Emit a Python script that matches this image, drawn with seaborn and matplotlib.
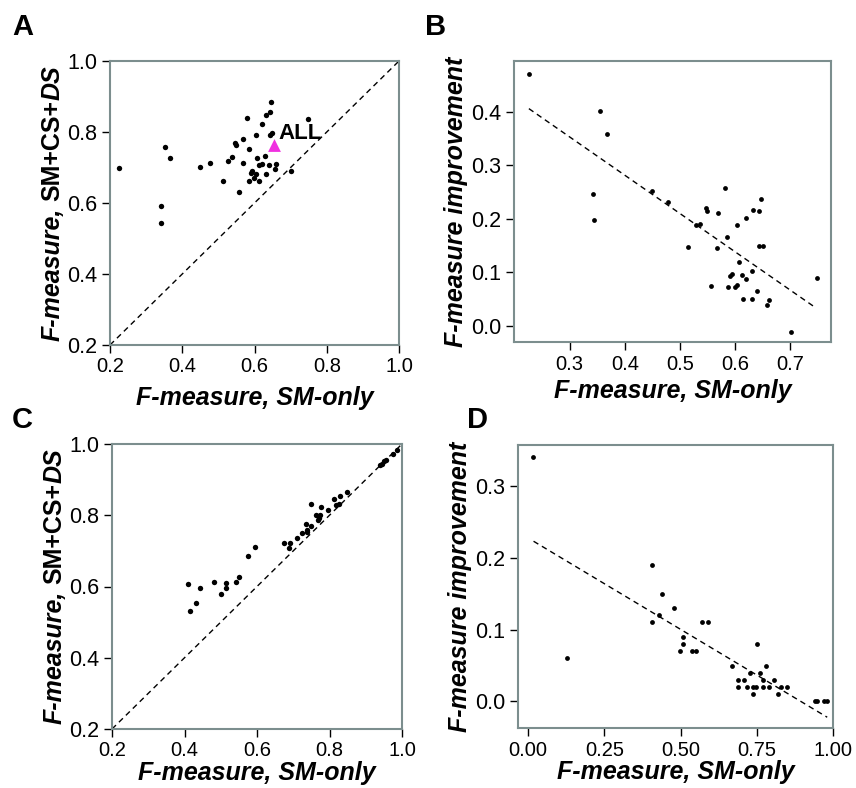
import numpy as np
import matplotlib
matplotlib.use('Agg')
import matplotlib.pyplot as plt
import seaborn as sns

sns.set_style('white')
plt.rcParams['font.family'] = ['Liberation Sans', 'DejaVu Sans']
plt.rcParams['text.color'] = 'black'
plt.rcParams['axes.labelcolor'] = 'black'
plt.rcParams['xtick.color'] = 'black'
plt.rcParams['ytick.color'] = 'black'

# Panel A: F-measure, SM-only vs SM+CS+DS
a_sm = [0.646, 0.643, 0.631, 0.580, 0.747, 0.621, 0.649, 0.644, 0.603, 0.568,
        0.547, 0.548, 0.353, 0.584, 0.366, 0.537, 0.630, 0.607, 0.527, 0.568,
        0.477, 0.448, 0.224, 0.612, 0.621, 0.640, 0.659, 0.656, 0.592, 0.590,
        0.604, 0.631, 0.701, 0.598, 0.586, 0.612, 0.513, 0.556, 0.341, 0.342]
a_full = [0.885, 0.857, 0.848, 0.839, 0.838, 0.823, 0.798, 0.792, 0.791, 0.779,
          0.770, 0.764, 0.759, 0.751, 0.728, 0.730, 0.733, 0.727, 0.717, 0.714,
          0.712, 0.701, 0.699, 0.708, 0.710, 0.706, 0.709, 0.697, 0.690, 0.685,
          0.683, 0.682, 0.689, 0.671, 0.661, 0.663, 0.663, 0.631, 0.591, 0.543]
all_sm = [0.654]
all_full = [0.763]

# Panel B: improvement vs SM-only
b_sm = [0.226, 0.355, 0.368, 0.343, 0.344, 0.449, 0.479, 0.514, 0.529, 0.537,
        0.548, 0.549, 0.557, 0.582, 0.569, 0.568, 0.585, 0.588, 0.591, 0.594,
        0.599, 0.604, 0.603, 0.608, 0.612, 0.614, 0.620, 0.620, 0.631, 0.631,
        0.633, 0.640, 0.643, 0.643, 0.647, 0.650, 0.658, 0.661, 0.702, 0.748]
b_imp = [0.471, 0.402, 0.358, 0.247, 0.198, 0.252, 0.232, 0.148, 0.189, 0.191,
         0.221, 0.215, 0.074, 0.258, 0.211, 0.145, 0.167, 0.073, 0.093, 0.097,
         0.073, 0.077, 0.188, 0.120, 0.095, 0.050, 0.088, 0.201, 0.103, 0.050,
         0.217, 0.066, 0.215, 0.149, 0.237, 0.149, 0.040, 0.048, -0.012, 0.090]
b_fit_x = [0.226, 0.742]
b_fit_y = [0.406, 0.037]

# Panel C
c_sm = [0.985, 0.974, 0.956, 0.950, 0.944, 0.939, 0.848, 0.830, 0.812, 0.748,
        0.777, 0.796, 0.826, 0.819, 0.763, 0.775, 0.771, 0.768, 0.735, 0.748,
        0.737, 0.739, 0.724, 0.709, 0.675, 0.692, 0.688, 0.595, 0.575, 0.551,
        0.542, 0.514, 0.514, 0.480, 0.502, 0.444, 0.411, 0.432, 0.416]
c_full = [0.983, 0.973, 0.955, 0.951, 0.945, 0.941, 0.864, 0.854, 0.846, 0.831,
          0.824, 0.816, 0.832, 0.830, 0.801, 0.801, 0.792, 0.787, 0.775, 0.771,
          0.759, 0.753, 0.749, 0.736, 0.722, 0.722, 0.707, 0.712, 0.685, 0.626,
          0.612, 0.611, 0.595, 0.612, 0.578, 0.597, 0.606, 0.553, 0.530]

# Panel D
d_sm = [0.017, 0.127, 0.408, 0.408, 0.429, 0.439, 0.479, 0.497, 0.508, 0.509,
        0.539, 0.551, 0.569, 0.589, 0.669, 0.690, 0.690, 0.709, 0.719, 0.729,
        0.739, 0.739, 0.749, 0.750, 0.760, 0.769, 0.769, 0.779, 0.789, 0.808,
        0.818, 0.828, 0.850, 0.940, 0.949, 0.972, 0.980]
d_imp = [0.34, 0.06, 0.19, 0.11, 0.12, 0.15, 0.13, 0.07, 0.09, 0.08,
         0.07, 0.07, 0.11, 0.11, 0.05, 0.03, 0.02, 0.03, 0.02, 0.04,
         0.02, 0.01, 0.02, 0.08, 0.04, 0.03, 0.02, 0.05, 0.02, 0.03,
         0.01, 0.02, 0.02, 0.0, 0.0, 0.0, 0.0]
d_fit_x = [0.018, 0.981]
d_fit_y = [0.223, -0.022]

diag = [0.2, 1.0]

unit_ticks = [0.2, 0.4, 0.6, 0.8, 1.0]
b_xticks = [0.3, 0.4, 0.5, 0.6, 0.7]
b_yticks = [0.0, 0.1, 0.2, 0.3, 0.4]
d_xticks = [0.0, 0.25, 0.5, 0.75, 1.0]
d_yticks = [0.0, 0.1, 0.2, 0.3]

W, H = 856, 788
fig = plt.figure(figsize=(W / 100, H / 100), dpi=100)


def px_axes(left, right, top, bottom):
    return fig.add_axes([left / W, 1 - bottom / H, (right - left) / W, (bottom - top) / H])


ax_a = px_axes(110, 399, 61, 345)
ax_b = px_axes(514, 831, 61, 342)
ax_c = px_axes(112, 402, 444, 729)
ax_d = px_axes(518, 833, 445, 728)

spine_col = '#7c8e8e'
xlab = 'F-measure, SM-only'
lab_kw = dict(fontsize=18, fontweight='bold', fontstyle='italic')


def style(ax, xticks, yticks, xfmt, yfmt, pad):
    for s in ax.spines.values():
        s.set_color(spine_col)
        s.set_linewidth(1.5)
    ax.set_xticks(xticks)
    ax.set_yticks(yticks)
    ax.set_xticklabels([xfmt.format(v) for v in xticks])
    ax.set_yticklabels([yfmt.format(v) for v in yticks])
    ax.tick_params(direction='out', length=6, width=1, color='black',
                   labelcolor='black', bottom=True, left=True, pad=3)
    ax.tick_params(axis='x', labelsize=14.5)
    ax.tick_params(axis='y', labelsize=15.5)
    ax.set_xlabel(xlab, labelpad=pad, **lab_kw)


def scatter(ax, x, y, s):
    sns.scatterplot(x=x, y=y, ax=ax, color='black', s=s, linewidth=0, zorder=3)


def dashed(ax, x, y):
    sns.lineplot(x=x, y=y, ax=ax, color='black', linestyle=(0, (4, 3)), linewidth=1)


# A
dashed(ax_a, diag, diag)
scatter(ax_a, a_sm, a_full, 15)
sns.scatterplot(x=all_sm, y=all_full, ax=ax_a, marker='^', color='#f030e0', s=85,
                linewidth=0, zorder=4)
ax_a.annotate('ALL', xy=(all_sm[0], all_full[0]), xytext=(3.5, 4.5),
              textcoords='offset points', fontsize=16, fontweight='bold')
ax_a.set_xlim(0.2, 1.0)
ax_a.set_ylim(0.2, 1.0)
style(ax_a, unit_ticks, unit_ticks, '{:.1f}', '{:.1f}', 7)

# B
dashed(ax_b, b_fit_x, b_fit_y)
scatter(ax_b, b_sm, b_imp, 12)
ax_b.set_xlim(0.199, 0.774)
ax_b.set_ylim(-0.03, 0.495)
style(ax_b, b_xticks, b_yticks, '{:.1f}', '{:.1f}', 4)
ax_b.set_ylabel('F-measure improvement', labelpad=2, **lab_kw)

# C
dashed(ax_c, diag, diag)
scatter(ax_c, c_sm, c_full, 15)
ax_c.set_xlim(0.2, 1.0)
ax_c.set_ylim(0.2, 1.0)
style(ax_c, unit_ticks, unit_ticks, '{:.1f}', '{:.1f}', 0.5)

# D
dashed(ax_d, d_fit_x, d_fit_y)
scatter(ax_d, d_sm, d_imp, 12)
ax_d.set_xlim(-0.033, 1.0)
ax_d.set_ylim(-0.037, 0.357)
style(ax_d, d_xticks, d_yticks, '{:.2f}', '{:.1f}', 0.5)
ax_d.set_ylabel('F-measure improvement', labelpad=2, **lab_kw)


# y label with mixed styles: "F-measure," italic, "SM+CS+" upright, "DS" italic
def mixed_ylabel(ax, xfrac):
    parts = [('F-measure,', 'italic', 0), ('SM+CS+', 'normal', 5), ('DS', 'italic', 0)]
    texts = []
    prev = None
    for txt, st, gap in parts:
        kw = dict(rotation=90, rotation_mode='anchor', ha='left', va='baseline',
                  fontsize=18, fontweight='bold', fontstyle=st, color='black')
        if prev is None:
            t = ax.text(xfrac, 0.0, txt, transform=ax.transAxes, **kw)
        else:
            t = ax.annotate(txt, xy=(xfrac, 1), xycoords=(ax.transAxes, prev),
                            xytext=(0, gap), textcoords='offset points', **kw)
        texts.append(t)
        prev = t
    return texts


labs_a = mixed_ylabel(ax_a, -0.175)
labs_c = mixed_ylabel(ax_c, -0.175)

# center the chained labels on their axes
fig.canvas.draw()
r = fig.canvas.get_renderer()
for ax, labs in [(ax_a, labs_a), (ax_c, labs_c)]:
    b0 = labs[0].get_window_extent(r).y0
    b1 = labs[-1].get_window_extent(r).y1
    abox = ax.get_window_extent(r)
    shift = (abox.y0 + abox.y1) / 2 - (b0 + b1) / 2
    labs[0].set_y(shift / abox.height)

# panel letters
for letter, x, y in [('A', 12, 35), ('B', 425, 35), ('C', 12, 428), ('D', 467, 428)]:
    fig.text(x / W, 1 - y / H, letter, fontsize=21, fontweight='bold', va='baseline',
             color='black')

fig.savefig('out.png', dpi=100)
